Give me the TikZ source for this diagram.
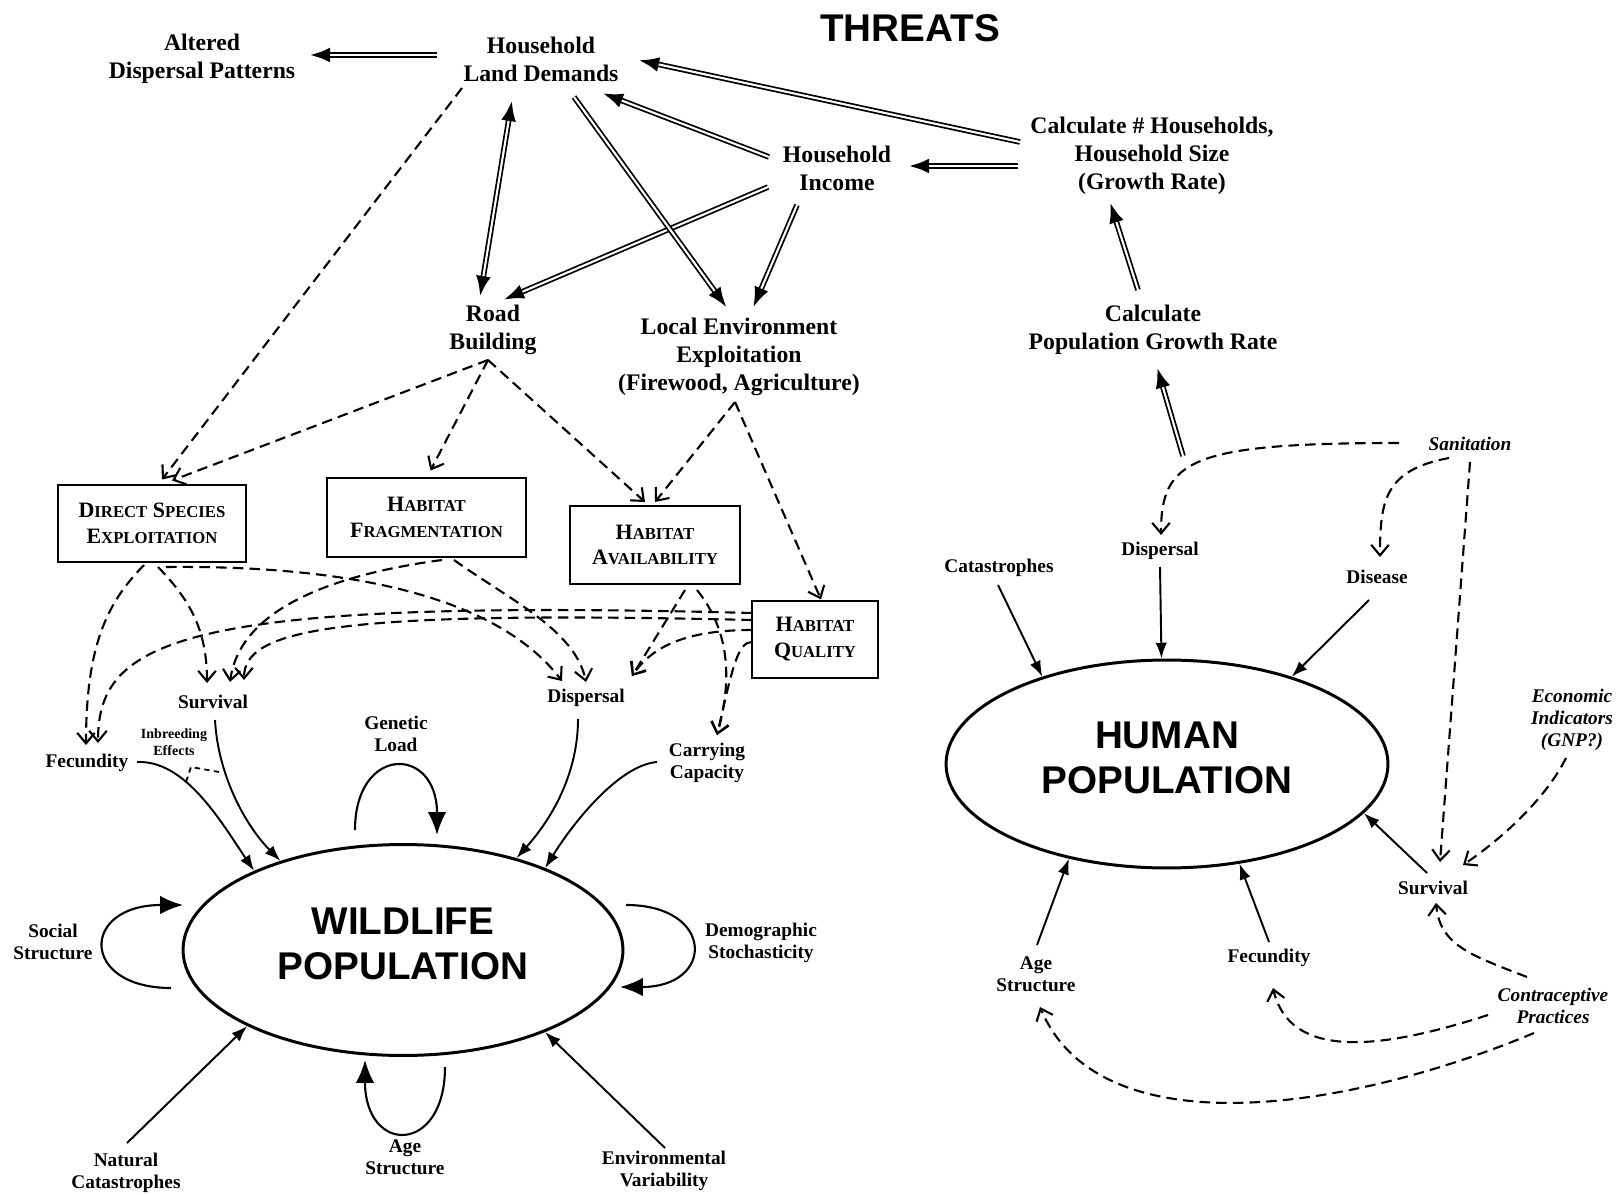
\documentclass[tikz,border=0pt]{standalone}
\usepackage{fontspec}
\setmainfont{Liberation Serif}
\setsansfont{Liberation Sans}
\usetikzlibrary{arrows.meta,shapes.geometric,calc}
\newcommand\SCx[2]{#1{\fontsize{9.5}{14.7}\selectfont #2}}
\begin{document}
\begin{tikzpicture}[x=0.02cm,y=-0.02cm,
 lbl/.style={font=\fontsize{13.5}{16}\selectfont\bfseries, align=center, inner sep=0pt},
 sml/.style={font=\fontsize{11}{12.5}\selectfont\bfseries, align=center, inner sep=0pt},
 itl/.style={font=\fontsize{11}{12.5}\selectfont\bfseries\itshape, align=center, inner sep=0pt},
 tinyl/.style={font=\fontsize{8}{9.4}\selectfont\bfseries, align=center, inner sep=0pt},
 bigsf/.style={font=\fontsize{22}{25.5}\selectfont\sffamily\bfseries, align=center, inner sep=0pt},
 bx/.style={draw, line width=1.1pt, align=center, inner sep=0pt, font=\fontsize{12.5}{14.7}\selectfont\bfseries},
 popell/.style={draw, ellipse, line width=1.7pt, inner sep=0pt},
 dbl/.style={line width=3.2pt, -{Latex[length=12pt,width=8.5pt]}, postaction={draw=white, line width=1.2pt, -, shorten >=12pt}},
 dblboth/.style={line width=3.2pt, {Latex[length=12pt,width=8.5pt]}-{Latex[length=12pt,width=8.5pt]}, postaction={draw=white, line width=1.2pt, -, shorten >=12pt, shorten <=12pt}},
 dsh/.style={dash pattern=on 6pt off 3.5pt, line width=1.2pt, -{Straight Barb[length=6pt,width=10pt]}},
 dshline/.style={dash pattern=on 3pt off 2.5pt, line width=1pt},
 sol/.style={line width=1.1pt, -{Latex[length=9pt,width=6.5pt]}},
 lp/.style={line width=1.2pt, -{Latex[length=13pt,width=10.5pt]}}]

\useasboundingbox[fill=white] (0,0) rectangle (1618,1195);

% ---------------- nodes ----------------
\node[bigsf] (threats) at (910,28) {THREATS};
\node[lbl] (altered) at (202,59) {Altered\\Dispersal Patterns};
\node[lbl] (hld) at (541,59) {Household\\Land Demands};
\node[lbl] (hinc) at (837,168) {Household\\Income};
\node[lbl] (chh) at (1152,156) {Calculate \# Households,\\Household Size\\(Growth Rate)};
\node[lbl] (road) at (493,330) {Road\\Building};
\node[lbl] (lee) at (739,357) {Local Environment\\Exploitation\\(Firewood, Agriculture)};
\node[lbl] (cpgr) at (1153,330) {Calculate\\Population Growth Rate};

\node[bx, minimum width=3.76cm, minimum height=1.54cm] (dse) at (152,523.5) {\SCx{D}{IRECT} \SCx{S}{PECIES}\\\SCx{E}{XPLOITATION}};
\node[bx, minimum width=3.98cm, minimum height=1.58cm] (hf) at (426.5,517.5) {\SCx{H}{ABITAT}\\\SCx{F}{RAGMENTATION}};
\node[bx, minimum width=3.4cm, minimum height=1.56cm] (ha) at (655,545) {\SCx{H}{ABITAT}\\\SCx{A}{VAILABILITY}};
\node[bx, minimum width=2.52cm, minimum height=1.54cm] (hq) at (815,639.5) {\SCx{H}{ABITAT}\\\SCx{Q}{UALITY}};

\node[sml] (wsurv) at (213,702) {Survival};
\node[sml] (wfec) at (87,763) {Fecundity};
\node[tinyl] (inbr) at (174,742) {Inbreeding\\Effects};
\node[sml] (wdisp) at (586,698) {Dispersal};
\node[sml] (gload) at (396,734) {Genetic\\Load};
\node[sml] (carry) at (707,763) {Carrying\\Capacity};
\node[popell, minimum width=8.8cm, minimum height=4.22cm] (wild) at (403,950) {};
\node[bigsf] (wildtxt) at (403,944) {WILDLIFE\\POPULATION};
\node[sml] (social) at (53,942) {Social\\Structure};
\node[sml] (demog) at (761,943) {Demographic\\Stochasticity};
\node[sml] (natcat) at (126,1173) {Natural\\Catastrophes};
\node[sml] (wage) at (405,1157) {Age\\Structure};
\node[sml] (envvar) at (664,1171) {Environmental\\Variability};

\node[itl] (sanit) at (1470,444) {Sanitation};
\node[sml] (hdisp) at (1160,551) {Dispersal};
\node[sml] (hcat) at (999,568) {Catastrophes};
\node[sml] (disease) at (1377,577) {Disease};
\node[popell, minimum width=8.84cm, minimum height=4.16cm] (human) at (1167,764) {};
\node[bigsf] (humantxt) at (1167,758) {HUMAN\\POPULATION};
\node[itl] (econ) at (1572,720) {Economic\\Indicators\\(GNP?)};
\node[sml] (hsurv) at (1433,888) {Survival};
\node[sml] (hage) at (1036,974) {Age\\Structure};
\node[sml] (hfec) at (1269,958) {Fecundity};
\node[itl] (contra) at (1553,1006) {Contraceptive\\Practices};

\coordinate (hpop) at (1183,456);
\coordinate (gls) at (355,830);
\coordinate (gle) at (437,835);
\coordinate (sss) at (171,988);
\coordinate (sse) at (183,905);
\coordinate (dss) at (626,905);
\coordinate (dsf) at (620,987);
\coordinate (ags) at (445,1067);
\coordinate (agf) at (365,1060);

% ---------------- double arrows ----------------
\draw[dbl] ($(hld)+(-104,-4)$) -- ($(altered)+(107,-4)$);
\draw[dbl] ($(chh)+(-132,-14)$) -- ($(hld)+(97,1)$);
\draw[dbl] ($(hinc)+(-68,-11)$) -- ($(hld)+(61,34)$);
\draw[dbl] ($(chh)+(-134,10)$) -- ($(hinc)+(71,-2)$);
\draw[dblboth] ($(hld)+(-29,41)$) -- ($(road)+(-13,-33)$);
\draw[dbl] ($(hinc)+(-69,19)$) -- ($(road)+(10,-30)$);
\draw[dbl] ($(hld)+(33,38)$) -- ($(lee)+(-12,-49)$);
\draw[dbl] ($(hinc)+(-40,37)$) -- ($(lee)+(14,-49)$);
\draw[dbl] ($(cpgr)+(-15,-40)$) -- ($(chh)+(-42,46)$);
\draw[dbl] (hpop) -- ($(cpgr)+(4,37)$);

% ---------------- dashed: threats to boxes ----------------
\draw[dsh] ($(hld)+(-79,29)$) -- ($(dse)+(10,-44)$);
\draw[dsh] ($(road)+(-5,30)$) -- ($(dse)+(20,-43)$);
\draw[dsh] ($(road)+(-5,30)$) -- ($(hf)+(4,-47)$);
\draw[dsh] ($(road)+(-5,30)$) -- ($(ha)+(-10,-43)$);
\draw[dsh] ($(lee)+(-4,45)$) -- ($(ha)+(0,-43)$);
\draw[dsh] ($(lee)+(-4,45)$) -- ($(hq)+(6,-40)$);

% ---------------- dashed: boxes to wildlife factors ----------------
\draw[dsh] ($(dse)+(-8,41.5)$) .. controls (110,600) and (86,640) .. ($(wfec)+(-1,-18)$);
\draw[dsh] ($(dse)+(6,43.5)$) .. controls (190,600) and (207,630) .. ($(wsurv)+(-6,-19)$);
\draw[dsh] ($(dse)+(14,43.5)$) .. controls (360,565) and (500,600) .. ($(wdisp)+(-24,-17)$);
\draw[dsh] ($(hf)+(15.5,42.5)$) .. controls (330,575) and (240,610) .. ($(wsurv)+(17,-20)$);
\draw[dsh] ($(hf)+(27.5,42.5)$) .. controls (510,600) and (575,630) .. ($(wdisp)+(0,-16)$);
\draw[dsh] ($(hq)+(-63,-26.5)$) .. controls (180,598) and (98,640) .. ($(wfec)+(11,-20)$);
\draw[dsh] ($(hq)+(-63,-19.5)$) .. controls (330,610) and (244,630) .. ($(wsurv)+(31,-22)$);
\draw[dsh] ($(hq)+(-63,-9.5)$) .. controls (680,630) and (650,650) .. ($(wdisp)+(46,-22)$);
\draw[dsh] ($(ha)+(30,45)$) -- ($(wdisp)+(46,-22)$);
\draw[dsh] ($(ha)+(42,45)$) .. controls (725,625) and (735,670) .. ($(carry)+(10,-28)$);
\draw[dsh] ($(hq)+(-63,2.5)$) .. controls (738,642) and (733,665) .. ($(carry)+(10,-28)$);
\draw[dshline] ($(inbr)+(45,30)$) -- ($(inbr)+(17,25)$) -- ($(inbr)+(12,40)$);

% ---------------- wildlife solid ----------------
\draw[sol] ($(wfec)+(50,-1)$) .. controls (185,760) and (220,820) .. (wild.152);
\draw[sol] ($(wsurv)+(2,18)$) .. controls (218,775) and (245,825) .. (wild.144.5);
\draw[sol] ($(wdisp)+(-8,21)$) .. controls (578,770) and (555,815) .. (wild.39);
\draw[sol] ($(carry)+(-50,-1)$) .. controls (620,765) and (575,820) .. (wild.30.5);
\draw[sol] ($(natcat)+(1,-30)$) -- (wild.206.7);
\draw[sol] ($(envvar)+(1,-23)$) -- (wild.330);
\draw[lp] (gls) .. controls (355,745) and (437,745) .. (gle);
\draw[lp] (sss) .. controls (80,988) and (80,905) .. (sse);
\draw[lp] (dss) .. controls (715,905) and (715,987) .. (dsf);
\draw[lp] (ags) .. controls (445,1155) and (365,1155) .. (agf);

% ---------------- human side ----------------
\draw[sol] ($(hcat)+(-1,17)$) -- (human.145);
\draw[sol] ($(hdisp)+(0,16)$) -- (human.93.7);
\draw[sol] ($(disease)+(-8,23)$) -- (human.35);
\draw[sol] ($(hsurv)+(-6,-15)$) -- (human.346);
\draw[sol] ($(hage)+(1,-29)$) -- (human.224.7);
\draw[sol] ($(hfec)+(0,-16)$) -- (human.306.4);

\draw[dsh] ($(sanit)+(-71,-1)$) .. controls (1190,443) and (1161,460) .. ($(hdisp)+(1,-16)$);
\draw[dsh] ($(sanit)+(-21,14)$) .. controls (1385,470) and (1380,500) .. ($(disease)+(3,-20)$);
\draw[dsh] ($(sanit)+(0,18)$) -- ($(hsurv)+(7,-26)$);
\draw[dsh] ($(econ)+(-6,38)$) .. controls (1545,800) and (1500,840) .. ($(hsurv)+(30,-23)$);
\draw[dsh] ($(contra)+(-26,-29)$) .. controls (1470,955) and (1440,945) .. ($(hsurv)+(3,15)$);
\draw[dsh] ($(contra)+(-65,9)$) .. controls (1380,1050) and (1290,1060) .. ($(hfec)+(4,30)$);
\draw[dsh] ($(contra)+(-19,27)$) .. controls (1350,1110) and (1100,1150) .. ($(hage)+(4,33)$);
\end{tikzpicture}
\end{document}
